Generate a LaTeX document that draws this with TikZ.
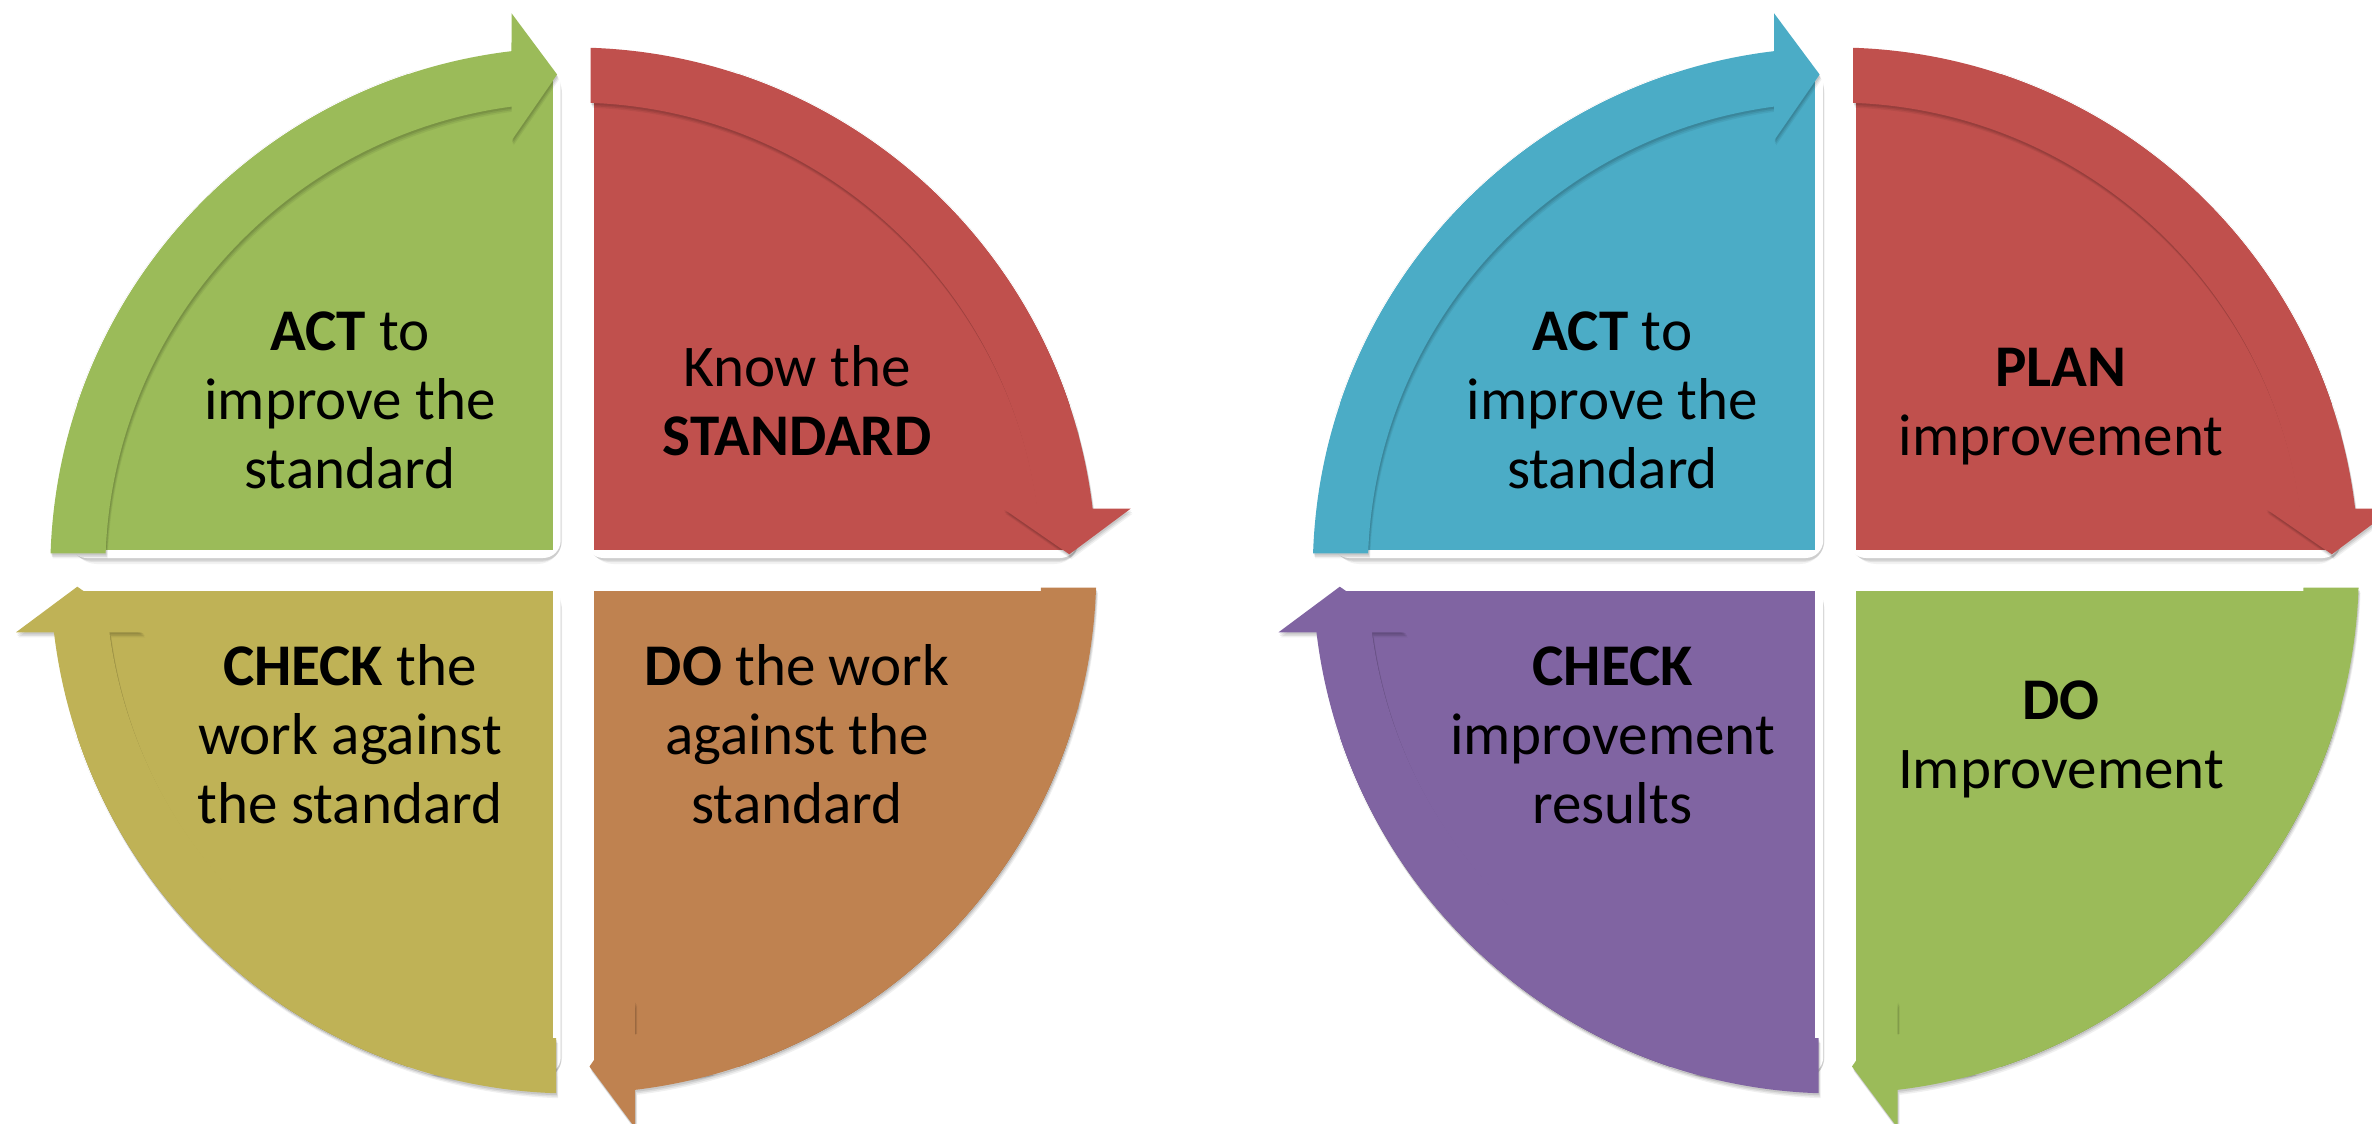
\documentclass[tikz,border=0pt]{standalone}
\usepackage{fontspec}
\setmainfont{Carlito}
\definecolor{cgreen}{RGB}{155,187,89}
\definecolor{cred}{RGB}{192,80,77}
\definecolor{corange}{RGB}{191,130,80}
\definecolor{colive}{RGB}{191,178,86}
\definecolor{cblue}{RGB}{75,172,198}
\definecolor{cpurple}{RGB}{128,100,162}
% one curved arrow, centre (#1,#2), rotation #3, fill options #4
\newcommand\arcarrow[4]{%
  \begin{scope}[shift={(#1,#2)},rotate=#3]
    \fill[#4] (-522.72,17.2) arc[start angle=178.115,end angle=96.786,radius=523]
      -- (-61.8,557.3) -- (-16.2,496) -- (-61.8,430) -- (-61.8,463.90)
      arc[start angle=97.588,end angle=177.894,radius=468] -- cycle;
  \end{scope}}
\newcommand\shadowarrow[4]{%
  \arcarrow{#1+0.8}{#2-2}{#3}{black,opacity=0.09}%
  \arcarrow{#1+1.4}{#2-3.5}{#3}{black,opacity=0.08}%
  \arcarrow{#1+2}{#2-5}{#3}{black,opacity=0.06}%
  \arcarrow{#1}{#2}{#3}{#4}}
% white frame with soft shadow below and to the right
\newcommand\qframe[4]{%
  \fill[black,opacity=0.05,rounded corners=7] (#1+3,#2-4) rectangle (#3+1.5,#4-6);
  \fill[black,opacity=0.07,rounded corners=6] (#1+3,#2-4) rectangle (#3+1,#4-4);
  \fill[black,opacity=0.08,rounded corners=5] (#1+3,#2-4) rectangle (#3+0.5,#4-2.5);
  \fill[white,rounded corners=5] (#1,#2) rectangle (#3,#4);}
% whole cycle: centre (#1,#2), colours TL TR BR BL
\newcommand\cycleblock[6]{%
  \begin{scope}
    \clip (#1,#2) circle[radius=524];
    \qframe{#1-504.3}{#2+504.2}{#1-12.6}{#2+12.5}
    \qframe{#1+12.6}{#2+504.2}{#1+504.3}{#2+12.5}
    \qframe{#1+12.6}{#2-12.5}{#1+504.3}{#2-504.2}
    \qframe{#1-504.3}{#2-12.5}{#1-12.6}{#2-504.2}
  \end{scope}
  \begin{scope}
    \clip (#1,#2) circle[radius=523];
    \fill[#3] (#1-496.3,#2+20.5) rectangle (#1-20.6,#2+496.2);
    \fill[#4] (#1+20.6,#2+20.5) rectangle (#1+496.3,#2+496.2);
    \fill[#5] (#1+20.6,#2-20.5) rectangle (#1+496.3,#2-496.2);
    \fill[#6] (#1-496.3,#2-20.5) rectangle (#1-20.6,#2-496.2);
  \end{scope}
  \shadowarrow{#1}{#2}{0}{#3}
  \shadowarrow{#1}{#2}{-90}{#4}
  \shadowarrow{#1}{#2}{-180}{#5}
  \shadowarrow{#1}{#2}{90}{#6}}
% anchor=base of a multi-line node is the baseline of its last line
\tikzset{txt/.style={anchor=base,align=center,inner sep=0pt,text=black,
  font=\fontsize{16.8pt}{19.6pt}\selectfont}}
\begin{document}
\begin{tikzpicture}[x=0.01cm,y=0.01cm]
\useasboundingbox (0,0) rectangle (2372,1123);
\clip (0,0) rectangle (2372,1123);
\fill[white] (0,0) rectangle (2372,1123);
\cycleblock{573.3}{552.5}{cgreen}{cred}{corange}{colive}
\cycleblock{1835.8}{552.5}{cblue}{cred}{cgreen}{cpurple}
% texts, left cycle
\node[txt] (lact) at (350,635) {\textbf{ACT} to\\improve the\\standard};
\node[txt] (lstd) at (797,668) {Know the\\\textbf{STANDARD}};
\node[txt] (lchk) at (350,300) {\textbf{CHECK} the\\work against\\the standard};
\node[txt] (ldo) at (797,300) {\textbf{DO} the work\\against the\\standard};
% texts, right cycle
\node[txt] (ract) at (1612.5,635) {\textbf{ACT} to\\improve the\\standard};
\node[txt] (rplan) at (2061,668) {\textbf{PLAN}\\improvement};
\node[txt] (rchk) at (1612.5,300) {\textbf{CHECK}\\improvement\\results};
\node[txt] (rdo) at (2061,335) {\textbf{DO}\\Improvement};
\end{tikzpicture}
\end{document}
